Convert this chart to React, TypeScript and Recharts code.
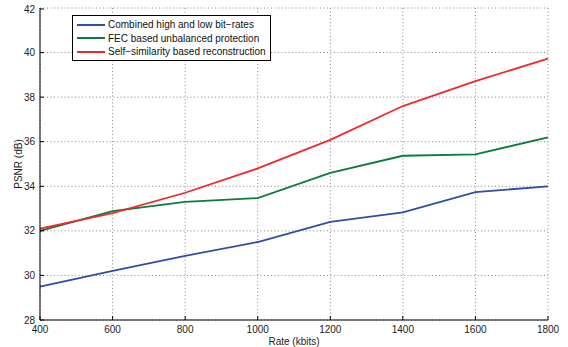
import React from 'react';
import { LineChart, Line, XAxis, YAxis, CartesianGrid, Legend } from 'recharts';

// Rate (kbits) on x, PSNR (dB) on y
const rates = [400, 600, 800, 1000, 1200, 1400, 1600, 1800];
const combinedHighLow = [29.5, 30.2, 30.88, 31.5, 32.4, 32.83, 33.74, 34.0];
const fecUnbalanced = [32.0, 32.89, 33.3, 33.47, 34.6, 35.37, 35.43, 36.2];
const selfSimilarity = [32.1, 32.8, 33.71, 34.8, 36.08, 37.6, 38.72, 39.73];

const xTicks = [400, 600, 800, 1000, 1200, 1400, 1600, 1800];
const yTicks = [28, 30, 32, 34, 36, 38, 40, 42];

const series = [
  { key: 'combined', name: 'Combined high and low bit\u2212rates', color: '#2f4ea6' },
  { key: 'fec', name: 'FEC based unbalanced protection', color: '#0d7b3b' },
  { key: 'self', name: 'Self\u2212similarity based reconstruction', color: '#ee2a2a' },
];

const data = rates.map((rate, i) => ({
  rate,
  combined: combinedHighLow[i],
  fec: fecUnbalanced[i],
  self: selfSimilarity[i],
}));

const FONT = '"Liberation Sans", Arial, Helvetica, sans-serif';
const TICK = 4;

const makeTick = (side: string) => (props: any) => {
  const { x, y, payload } = props;
  if (side === 'bottom') {
    return (
      <g>
        <line x1={x} y1={y} x2={x} y2={y - TICK} stroke="#000" />
        <text x={x} y={y + 13} textAnchor="middle" fontSize={10} fontFamily={FONT} fill="#222">
          {payload.value}
        </text>
      </g>
    );
  }
  if (side === 'top') {
    return <line x1={x} y1={y} x2={x} y2={y + TICK} stroke="#000" />;
  }
  if (side === 'left') {
    return (
      <g>
        <line x1={x} y1={y} x2={x + TICK} y2={y} stroke="#000" />
        <text x={x - 5} y={y + 3.5} textAnchor="end" fontSize={10} fontFamily={FONT} fill="#222">
          {payload.value}
        </text>
      </g>
    );
  }
  return <line x1={x} y1={y} x2={x - TICK} y2={y} stroke="#000" />;
};

const LegendBox = () => (
  <div
    style={{
      width: 197,
      border: '1px solid #000',
      background: '#fff',
      paddingTop: 2,
      paddingBottom: 1,
      fontFamily: FONT,
      fontSize: 10,
      color: '#111',
    }}
  >
    {series.map((s) => (
      <div key={s.key} style={{ display: 'flex', alignItems: 'center', height: 13.5 }}>
        <span style={{ width: 28, height: 2, background: s.color, marginLeft: 4, marginRight: 3 }} />
        <span style={{ whiteSpace: 'nowrap' }}>{s.name}</span>
      </div>
    ))}
  </div>
);

const App = () => {
  return (
    <div style={{ position: 'absolute', left: 0, top: 0, width: 568, height: 347, background: '#fff' }}>
      <LineChart width={568} height={347} data={data} margin={{ top: 8, right: 20, bottom: 0, left: 0 }}>
        <CartesianGrid stroke="#888" strokeDasharray="1 2.5" />
        <XAxis
          dataKey="rate"
          type="number"
          domain={[400, 1800]}
          ticks={xTicks}
          height={27}
          tickSize={0}
          tickMargin={0}
          tickLine={false}
          axisLine={{ stroke: '#000' }}
          tick={makeTick('bottom')}
          label={{ value: 'Rate (kbits)', position: 'insideBottom', offset: 2, fontSize: 10, fontFamily: FONT, fill: '#222' }}
        />
        <XAxis
          xAxisId="top"
          orientation="top"
          dataKey="rate"
          type="number"
          domain={[400, 1800]}
          ticks={xTicks}
          height={0}
          tickSize={0}
          tickMargin={0}
          tickLine={false}
          axisLine={{ stroke: '#000' }}
          tick={makeTick('top')}
        />
        <YAxis
          type="number"
          domain={[28, 42]}
          ticks={yTicks}
          width={40}
          tickSize={0}
          tickMargin={0}
          tickLine={false}
          axisLine={{ stroke: '#000' }}
          tick={makeTick('left')}
          label={{
            value: 'PSNR (dB)',
            angle: -90,
            position: 'insideLeft',
            offset: 18,
            fontSize: 10,
            fontFamily: FONT,
            fill: '#222',
            style: { textAnchor: 'middle' },
          }}
        />
        <YAxis
          yAxisId="right"
          orientation="right"
          type="number"
          domain={[28, 42]}
          ticks={yTicks}
          width={0}
          tickSize={0}
          tickMargin={0}
          tickLine={false}
          axisLine={{ stroke: '#000' }}
          tick={makeTick('right')}
        />
        <Legend
          layout="vertical"
          align="center"
          verticalAlign="middle"
          wrapperStyle={{ left: 72, top: 15, width: 'auto' }}
          content={() => <LegendBox />}
        />
        {series.map((s) => (
          <Line
            key={s.key}
            type="linear"
            dataKey={s.key}
            name={s.name}
            stroke={s.color}
            strokeWidth={1.8}
            dot={false}
            isAnimationActive={false}
          />
        ))}
      </LineChart>
    </div>
  );
};

export default App;
